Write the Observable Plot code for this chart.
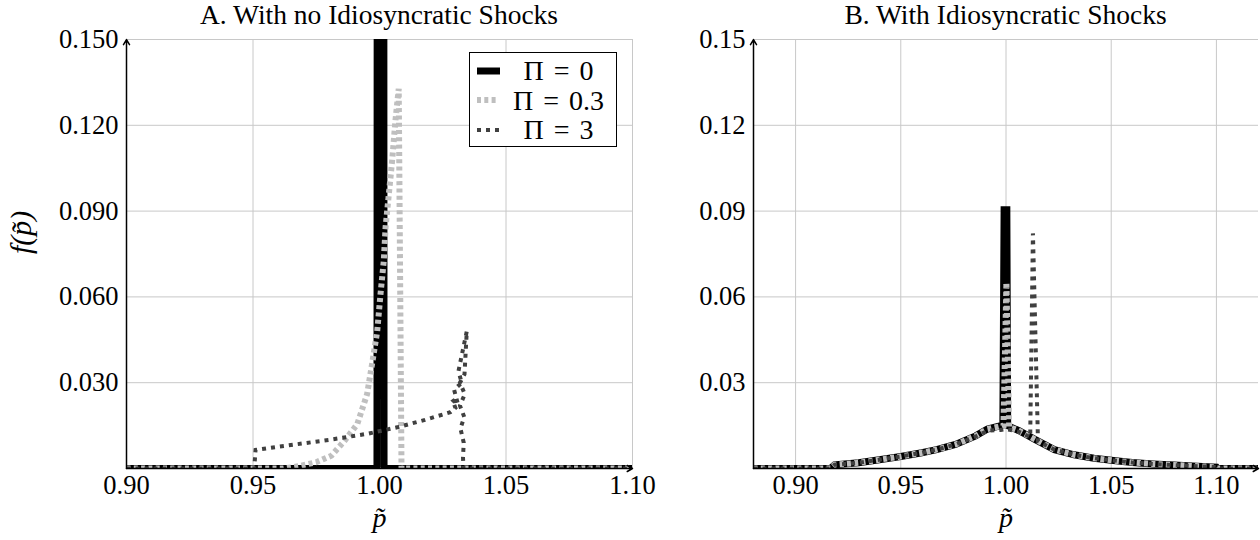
<!DOCTYPE html>
<html><head><meta charset="utf-8">
<script src="https://cdn.jsdelivr.net/npm/d3@7"></script>
<script src="https://cdn.jsdelivr.net/npm/@observablehq/plot@0.6"></script>
<style>
body{margin:0;background:#fff;}
#wrap{position:relative;width:1260px;height:540px;font-family:'Liberation Serif','DejaVu Serif','Times New Roman',serif;color:#000;overflow:hidden;background:#fff;}
.panel{position:absolute;top:0;}
.title{height:28px;line-height:30px;font-size:27.5px;text-align:center;white-space:nowrap;box-sizing:border-box;}
.legend{position:absolute;background:#fff;border:1px solid #000;box-sizing:border-box;padding-top:3px;}
.legend .row{display:flex;align-items:center;height:29.5px;}
.legend .row svg{margin-left:7px;flex:none;}
.legend .row span{flex:1;text-align:center;font-size:28px;line-height:29px;word-spacing:3px;white-space:nowrap;}
</style></head>
<body>
<div id="wrap"></div>
<script>
// ---------- data ----------
const titles = ["A. With no Idiosyncratic Shocks", "B. With Idiosyncratic Shocks"];
const seriesNames = ["Π = 0", "Π = 0.3", "Π = 3"];
const xLabel = "p\u0303";
const yLabel = "f(p\u0303)";
const yTicks = [0.03, 0.06, 0.09, 0.12, 0.15];
const xTicksA = [0.90, 0.95, 1.00, 1.05, 1.10];
const xTicksB = [0.90, 0.95, 1.00, 1.05, 1.10];
const xDomainA = [0.90, 1.10];
const xDomainB = [0.88, 1.12];
const yDomain = [0, 0.15];

// Panel A: Pi = 0 (point mass at 1)
const pA0 = [0.90, 0.999, 1.0004, 1.0018, 1.10];
const fA0 = [0, 0, 3.0, 0, 0];
// Panel A: Pi = 0.3
const pA1 = [0.90, 0.962, 0.968, 0.975, 0.981, 0.986, 0.9912, 0.9951, 0.9971, 0.9991, 1.0004, 1.0017, 1.0024, 1.0037, 1.005, 1.0063, 1.0076, 1.0087, 1.10];
const fA1 = [0, 0, 0.0008, 0.0022, 0.0045, 0.0095, 0.0155, 0.026, 0.0367, 0.048, 0.061, 0.0727, 0.0844, 0.096, 0.1077, 0.1217, 0.1328, 0, 0];
// Panel A: Pi = 3
const pA2 = [0.90, 0.9505, 0.951, 0.960, 0.970, 0.980, 0.9872, 0.995, 1.007, 1.018, 1.028, 1.0300, 1.0288, 1.0310, 1.0295, 1.0325, 1.0312, 1.0345, 1.0336, 1.0318, 1.0337, 1.0318, 1.0335, 1.0320, 1.0333, 1.0330, 1.0332, 1.10];
const fA2 = [0, 0, 0.0065, 0.0076, 0.0088, 0.0100, 0.0110, 0.0121, 0.0144, 0.0170, 0.0197, 0.0212, 0.0240, 0.0225, 0.0275, 0.0300, 0.0340, 0.0480, 0.0330, 0.0300, 0.0260, 0.0220, 0.0180, 0.0140, 0.0090, 0.0040, 0, 0];

// Panel B: Pi = 0
const pB0 = [0.88, 0.9165, 0.9185, 0.930, 0.939, 0.950, 0.960, 0.967, 0.976, 0.9856, 0.9912, 0.9985, 0.9991, 1.0004, 1.0008, 1.0062, 1.0137, 1.023, 1.0324, 1.0418, 1.0511, 1.060, 1.0699, 1.080, 1.0886, 1.100, 1.1005, 1.12];
const fB0 = [0, 0, 0.0013, 0.0020, 0.0030, 0.0042, 0.0055, 0.0066, 0.0084, 0.0114, 0.0138, 0.0152, 0.0905, 0.0905, 0.0150, 0.0132, 0.0102, 0.0066, 0.0048, 0.0036, 0.0028, 0.0021, 0.0016, 0.0012, 0.0009, 0.0005, 0, 0];
// Panel B: Pi = 0.3
const pB1 = [0.88, 0.9165, 0.9185, 0.930, 0.939, 0.950, 0.960, 0.967, 0.976, 0.9856, 0.9912, 0.9988, 1.0002, 1.0015, 1.0062, 1.0137, 1.023, 1.0324, 1.0418, 1.0511, 1.060, 1.0699, 1.080, 1.0886, 1.100, 1.1005, 1.12];
const fB1 = [0, 0, 0.0013, 0.0020, 0.0030, 0.0042, 0.0055, 0.0066, 0.0084, 0.0114, 0.0138, 0.0150, 0.0650, 0.0145, 0.0132, 0.0102, 0.0066, 0.0048, 0.0036, 0.0028, 0.0021, 0.0016, 0.0012, 0.0009, 0.0005, 0, 0];
// Panel B: Pi = 3
const pB2 = [0.88, 0.9165, 0.9185, 0.930, 0.939, 0.950, 0.960, 0.967, 0.976, 0.9856, 0.9912, 0.9975, 1.0000, 1.0062, 1.0115, 1.0128, 1.0152, 1.023, 1.0324, 1.0418, 1.0511, 1.060, 1.0699, 1.080, 1.0886, 1.100, 1.1005, 1.12];
const fB2 = [0, 0, 0.0013, 0.0020, 0.0030, 0.0042, 0.0055, 0.0066, 0.0084, 0.0112, 0.0132, 0.0135, 0.0138, 0.0128, 0.0110, 0.0822, 0.0095, 0.0066, 0.0048, 0.0036, 0.0028, 0.0021, 0.0016, 0.0012, 0.0009, 0.0005, 0, 0];

// ---------- styles ----------
const styles = [
  {stroke: "#000000", strokeWidth: 7, strokeDasharray: null},
  {stroke: "#bfbfbf", strokeWidth: 6, strokeDasharray: "4,3.3"},
  {stroke: "#404040", strokeWidth: 4, strokeDasharray: "4,5"}
];
const FONT = "'Liberation Serif','DejaVu Serif','Times New Roman',serif";

function toRows(xs, ys) { return xs.map((x, i) => ({x, y: ys[i]})); }

function makePanel({series, xDomain, xTicks, yFmt, width, ml, mr, showYLabel}) {
  const lineMarks = series.map((s, i) => Plot.line(toRows(s[0], s[1]), {
    x: "x", y: "y", stroke: styles[i].stroke, strokeWidth: styles[i].strokeWidth,
    strokeDasharray: styles[i].strokeDasharray, strokeLinecap: "butt", strokeLinejoin: "miter",
    strokeMiterlimit: 2, clip: true
  }));
  const axesArrows = [
    {x1: xDomain[0], y1: yDomain[0], x2: xDomain[1], y2: yDomain[0]},
    {x1: xDomain[0], y1: yDomain[0], x2: xDomain[0], y2: yDomain[1]}
  ];
  const marks = [
    Plot.gridX(xTicks, {stroke: "#c8c8c8", strokeOpacity: 1, strokeWidth: 1}),
    Plot.gridY(yTicks, {stroke: "#c8c8c8", strokeOpacity: 1, strokeWidth: 1}),
    ...lineMarks,
    Plot.axisX(xTicks, {tickSize: 0, tickPadding: 7, tickFormat: d3.format(".2f"), label: null, fontSize: 26.5, fill: "black", fontFamily: FONT}),
    Plot.axisY(yTicks, {tickSize: 0, tickPadding: 8, tickFormat: d3.format(yFmt), label: null, fontSize: 26.5, fill: "black", fontFamily: FONT}),
    Plot.arrow(axesArrows, {x1: "x1", y1: "y1", x2: "x2", y2: "y2", stroke: "black", strokeWidth: 1.5, headLength: 6, headAngle: 60}),
    Plot.text([xLabel], {text: d => d, frameAnchor: "bottom", dy: 58, fontStyle: "italic", fontSize: 28, fill: "black", fontFamily: FONT})
  ];
  if (showYLabel) marks.push(Plot.text([yLabel], {text: d => d, frameAnchor: "left", dx: -105, rotate: -90, fontStyle: "italic", fontSize: 30, fill: "black", fontFamily: FONT}));
  return Plot.plot({
    width, height: 512, marginLeft: ml, marginRight: mr, marginTop: 11, marginBottom: 72,
    x: {domain: xDomain}, y: {domain: yDomain},
    style: {fontFamily: FONT, fontSize: "26px", background: "none", overflow: "visible", color: "black"},
    marks
  });
}

const wrap = document.getElementById("wrap");
const panels = [
  {left: 0, width: 640, ml: 126, mr: 8, title: titles[0], xDomain: xDomainA, xTicks: xTicksA, yFmt: ".3f", showYLabel: true,
   series: [[pA0, fA0], [pA1, fA1], [pA2, fA2]]},
  {left: 640, width: 620, ml: 113, mr: 2, title: titles[1], xDomain: xDomainB, xTicks: xTicksB, yFmt: ".2f", showYLabel: false,
   series: [[pB0, fB0], [pB1, fB1], [pB2, fB2]]}
];
for (const p of panels) {
  const div = document.createElement("div");
  div.className = "panel";
  div.style.left = p.left + "px";
  div.style.width = p.width + "px";
  const t = document.createElement("div");
  t.className = "title";
  t.style.paddingLeft = p.ml + "px";
  t.style.paddingRight = p.mr + "px";
  t.textContent = p.title;
  div.appendChild(t);
  div.appendChild(makePanel(p));
  wrap.appendChild(div);
}

// legend (inside panel A)
const leg = document.createElement("div");
leg.className = "legend";
Object.assign(leg.style, {left: "469px", top: "52px", width: "148px", height: "95px"});
seriesNames.forEach((name, i) => {
  const row = document.createElement("div");
  row.className = "row";
  const len = i === 1 ? 19 : 23;
  const svg = d3.create("svg").attr("width", 24).attr("height", 10);
  svg.append("line").attr("x1", 0).attr("x2", len).attr("y1", 5).attr("y2", 5)
    .attr("stroke", styles[i].stroke).attr("stroke-width", styles[i].strokeWidth)
    .attr("stroke-dasharray", styles[i].strokeDasharray);
  row.appendChild(svg.node());
  const sp = document.createElement("span");
  sp.textContent = name;
  row.appendChild(sp);
  leg.appendChild(row);
});
wrap.appendChild(leg);
</script>
</body></html>
